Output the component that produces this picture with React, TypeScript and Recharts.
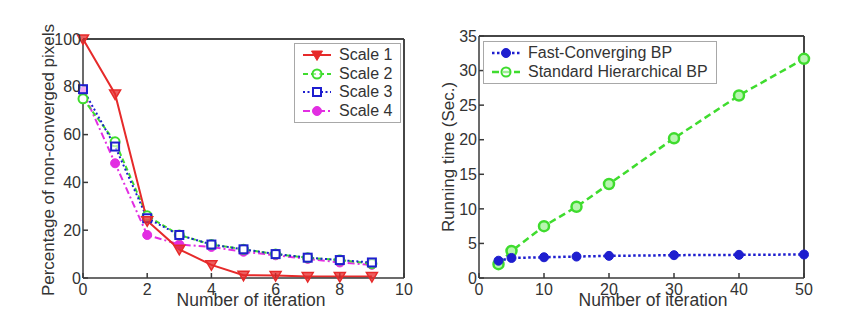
import React from "react";
import { LineChart, Line, XAxis, YAxis, Legend, ReferenceLine } from "recharts";

// ---------- Left chart data ----------
const iterations = [0, 1, 2, 3, 4, 5, 6, 7, 8, 9];
const scale1 = [100, 77, 24, 12, 5.5, 1.2, 1, 0.6, 0.6, 0.6];
const scale2 = [75, 57, 26, 18, 14, 12, 10, 8.5, 7.5, 6];
const scale3 = [79, 55, 25, 18, 14, 12, 10, 8.5, 7.5, 6.5];
const scale4 = [78, 48, 18, 14, 13, 11, 9.5, 8, 6.5, 5.5];
const leftXTicks = [0, 2, 4, 6, 8, 10];
const leftYTicks = [0, 20, 40, 60, 80, 100];

// ---------- Right chart data ----------
const runIters = [3, 5, 10, 15, 20, 30, 40, 50];
const fastBP = [2.5, 2.9, 3.0, 3.1, 3.2, 3.3, 3.35, 3.4];
const standardBP = [2.0, 3.9, 7.5, 10.3, 13.6, 20.2, 26.4, 31.7];
const rightXTicks = [0, 10, 20, 30, 40, 50];
const rightYTicks = [0, 5, 10, 15, 20, 25, 30, 35];

const leftData = iterations.map((it, i) => ({
  it,
  s1: scale1[i],
  s2: scale2[i],
  s3: scale3[i],
  s4: scale4[i],
}));
const rightData = runIters.map((it, i) => ({ it, fast: fastBP[i], std: standardBP[i] }));

const RED = "#e62a2a";
const GREEN = "#3fdc2e";
const BLUE = "#1e1ecf";
const MAGENTA = "#e22ee2";
const AXIS = "#3a3a3a";
const TEXT = "#333";
const FONT = "'Liberation Sans', Arial, sans-serif";

const tickStyle = { fontSize: 16, fill: TEXT, fontFamily: FONT };

const TriDown = (color: string) => (p: any) => {
  const { cx, cy } = p;
  if (cx == null || cy == null) return <g key={p.key} />;
  return (
    <path
      key={p.key}
      d={`M${cx - 5.5},${cy - 4} L${cx + 5.5},${cy - 4} L${cx},${cy + 5.5} Z`}
      fill={color}
      fillOpacity={0.75}
      stroke={color}
      strokeWidth={1.5}
    />
  );
};
const Circ = (color: string, r: number, fill: string, sw: number) => (p: any) => {
  const { cx, cy } = p;
  if (cx == null || cy == null) return <g key={p.key} />;
  return <circle key={p.key} cx={cx} cy={cy} r={r} fill={fill} stroke={color} strokeWidth={sw} />;
};
const Sq = (color: string) => (p: any) => {
  const { cx, cy } = p;
  if (cx == null || cy == null) return <g key={p.key} />;
  return (
    <rect key={p.key} x={cx - 4} y={cy - 4} width={8} height={8} fill="#fff" fillOpacity={0.6} stroke={color} strokeWidth={2} />
  );
};

type LegItem = { label: string; color: string; dash?: string; width: number; marker: string };

const leftLegend: LegItem[] = [
  { label: "Scale 1", color: RED, width: 2, marker: "tri" },
  { label: "Scale 2", color: GREEN, dash: "5 3", width: 2, marker: "circ" },
  { label: "Scale 3", color: BLUE, dash: "2 2.5", width: 2, marker: "sq" },
  { label: "Scale 4", color: MAGENTA, dash: "7 3 2 3", width: 2, marker: "dot" },
];
const rightLegend: LegItem[] = [
  { label: "Fast-Converging BP", color: BLUE, dash: "2.5 2.5", width: 2.5, marker: "dot" },
  { label: "Standard Hierarchical BP", color: GREEN, dash: "7 4", width: 2.5, marker: "circ" },
];

const legendMarker = (m: string, color: string) => {
  const cx = 14, cy = 9;
  if (m === "tri") return <path d={`M${cx - 5.5},${cy - 4} L${cx + 5.5},${cy - 4} L${cx},${cy + 5.5} Z`} fill={color} stroke={color} />;
  if (m === "circ") return <circle cx={cx} cy={cy} r={4.5} fill="#fff" fillOpacity={0.5} stroke={color} strokeWidth={2} />;
  if (m === "sq") return <rect x={cx - 4} y={cy - 4} width={8} height={8} fill="#fff" stroke={color} strokeWidth={2} />;
  return <circle cx={cx} cy={cy} r={4.5} fill={color} stroke={color} />;
};

const makeLegend = (items: LegItem[], rowH: number) => () => (
  <div
    style={{
      border: "1px solid #a8a8a8",
      background: "#fff",
      padding: "2px 6px 2px 8px",
      fontFamily: FONT,
      fontSize: 16,
      color: TEXT,
      boxSizing: "border-box",
    }}
  >
    {items.map((it) => (
      <div key={it.label} style={{ display: "flex", alignItems: "center", height: rowH, whiteSpace: "nowrap" }}>
        <svg width={28} height={18} style={{ marginRight: 8, flex: "none" }}>
          <line x1={0} y1={9} x2={28} y2={9} stroke={it.color} strokeWidth={it.width} strokeDasharray={it.dash} />
          {legendMarker(it.marker, it.color)}
        </svg>
        <span>{it.label}</span>
      </div>
    ))}
  </div>
);

const yLabel = (text: string, x: number, y: number) => () => (
  <text
    x={x}
    y={y}
    transform={`rotate(-90, ${x}, ${y})`}
    textAnchor="middle"
    fontSize={17}
    fill={TEXT}
    fontFamily={FONT}
  >
    {text}
  </text>
);
// MATLAB-style x label: its white text box hides the lower half of the tick labels beneath it
const xLabel = (text: string, x: number, y: number) => () => (
  <g>
    <rect x={x - 76} y={y - 16} width={152} height={20} fill="#fff" />
    <text x={x} y={y} textAnchor="middle" fontSize={17.5} fill={TEXT} fontFamily={FONT}>
      {text}
    </text>
  </g>
);

export default function App() {
  return (
    <div style={{ position: "absolute", left: 0, top: 0, width: 863, height: 322, background: "#fff" }}>
      <div style={{ position: "absolute", left: 0, top: 0 }}>
        <LineChart width={430} height={322} data={leftData} margin={{ top: 39, right: 26, bottom: 14, left: 53 }}>
          <XAxis
            dataKey="it"
            type="number"
            domain={[0, 10]}
            ticks={leftXTicks}
            tick={tickStyle}
            stroke={AXIS}
            strokeWidth={1.5}
            tickSize={-5}
            tickMargin={11}
            height={30}
            label={{ content: xLabel("Number of iteration", 251, 306) }}
          />
          <XAxis xAxisId="top" orientation="top" type="number" domain={[0, 10]} ticks={leftXTicks} tick={false} mirror height={1} tickSize={5} stroke={AXIS} strokeWidth={1.5} />
          <YAxis
            type="number"
            domain={[0, 100]}
            ticks={leftYTicks}
            tick={tickStyle}
            stroke={AXIS}
            strokeWidth={1.5}
            tickSize={-5}
            tickMargin={7}
            width={30}
            label={{ content: yLabel("Percentage of non-converged pixels", 54, 160) }}
          />
          <YAxis yAxisId="right" orientation="right" type="number" domain={[0, 100]} ticks={leftYTicks} tick={false} mirror width={1} tickSize={5} stroke={AXIS} strokeWidth={1.5} />
          <ReferenceLine y={100} stroke={AXIS} strokeWidth={1.5} />
          <ReferenceLine x={10} stroke={AXIS} strokeWidth={1.5} />
          <Line dataKey="s4" stroke={MAGENTA} strokeWidth={2} strokeDasharray="7 3 2 3" dot={Circ(MAGENTA, 4.5, MAGENTA, 1)} isAnimationActive={false} />
          <Line dataKey="s2" stroke={GREEN} strokeWidth={2} strokeDasharray="5 3" dot={Circ(GREEN, 4.5, "#fff", 2)} isAnimationActive={false} />
          <Line dataKey="s3" stroke={BLUE} strokeWidth={2} strokeDasharray="2 2.5" dot={Sq(BLUE)} isAnimationActive={false} />
          <Line dataKey="s1" stroke={RED} strokeWidth={2} dot={TriDown(RED)} isAnimationActive={false} />
          <Legend
            layout="vertical"
            align="center"
            verticalAlign="middle"
            content={makeLegend(leftLegend, 18.5)}
            wrapperStyle={{ left: 294, top: 43, width: 107, height: 75 }}
          />
        </LineChart>
      </div>
      <div style={{ position: "absolute", left: 430, top: 0 }}>
        <LineChart width={433} height={322} data={rightData} margin={{ top: 36, right: 59, bottom: 14, left: 19 }}>
          <XAxis
            dataKey="it"
            type="number"
            domain={[0, 50]}
            ticks={rightXTicks}
            tick={tickStyle}
            stroke={AXIS}
            strokeWidth={1.5}
            tickSize={-5}
            tickMargin={11}
            height={30}
            label={{ content: xLabel("Number of iteration", 223, 306) }}
          />
          <XAxis xAxisId="top" orientation="top" type="number" domain={[0, 50]} ticks={rightXTicks} tick={false} mirror height={1} tickSize={5} stroke={AXIS} strokeWidth={1.5} />
          <YAxis
            type="number"
            domain={[0, 35]}
            ticks={rightYTicks}
            tick={tickStyle}
            stroke={AXIS}
            strokeWidth={1.5}
            tickSize={-5}
            tickMargin={7}
            width={30}
            label={{ content: yLabel("Running time (Sec.)", 24, 157) }}
          />
          <YAxis yAxisId="right" orientation="right" type="number" domain={[0, 35]} ticks={rightYTicks} tick={false} mirror width={1} tickSize={5} stroke={AXIS} strokeWidth={1.5} />
          <ReferenceLine y={35} stroke={AXIS} strokeWidth={1.5} />
          <ReferenceLine x={50} stroke={AXIS} strokeWidth={1.5} />
          <Line dataKey="std" stroke={GREEN} strokeWidth={2.5} strokeDasharray="7 4" dot={Circ(GREEN, 5, "#b8f5b0", 2.5)} isAnimationActive={false} />
          <Line dataKey="fast" stroke={BLUE} strokeWidth={2.5} strokeDasharray="2.5 2.5" dot={Circ(BLUE, 4.5, BLUE, 1)} isAnimationActive={false} />
          <Legend
            layout="vertical"
            align="center"
            verticalAlign="middle"
            content={makeLegend(rightLegend, 18.5)}
            wrapperStyle={{ left: 53, top: 41, width: 234, height: 40 }}
          />
        </LineChart>
      </div>
    </div>
  );
}
